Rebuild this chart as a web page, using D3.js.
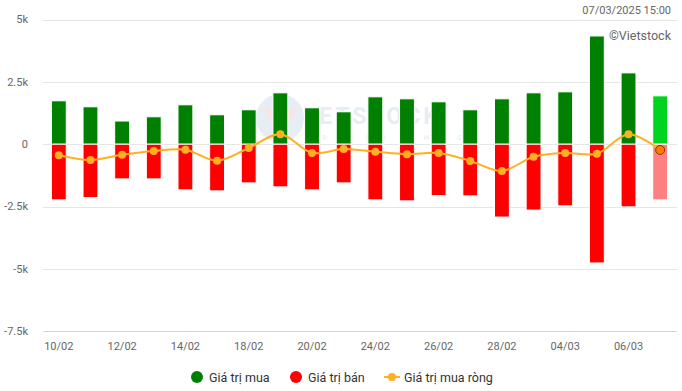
<!DOCTYPE html>
<html>
<head>
<meta charset="utf-8">
<script src="https://cdn.jsdelivr.net/npm/d3@7"></script>
<style>
  body { margin: 0; background: #fff; }
  svg text { font-family: Roboto, "Noto Sans", sans-serif; }
</style>
</head>
<body>
<div id="chart"></div>
<script>
// dates (trading days)
const dates = ["10/02", "11/02", "12/02", "13/02", "14/02", "17/02", "18/02", "19/02", "20/02", "21/02",
               "24/02", "25/02", "26/02", "27/02", "28/02", "03/03", "04/03", "05/03", "06/03", "07/03"];
// Giá trị mua (buy value)
const buyValues = [1740, 1500, 930, 1100, 1580, 1180, 1380, 2060, 1460, 1300,
                   1900, 1820, 1700, 1380, 1820, 2060, 2100, 4340, 2860, 1940];
// Giá trị bán (sell value)
const sellValues = [-2230, -2140, -1390, -1390, -1830, -1870, -1550, -1710, -1830, -1550,
                    -2230, -2270, -2060, -2070, -2920, -2640, -2470, -4760, -2510, -2230];
// Giá trị mua ròng (net)
const netValues = [-440, -630, -420, -270, -220, -660, -150, 400, -350, -190,
                   -300, -400, -350, -670, -1070, -500, -350, -380, 400, -230];
const yTicks = [-7500, -5000, -2500, 0, 2500, 5000];
const xLabelDates = ["10/02", "12/02", "14/02", "18/02", "20/02", "24/02", "26/02", "28/02", "04/03", "06/03"];

const W = 682, H = 391;
const svg = d3.select("#chart").append("svg")
    .attr("width", W)
    .attr("height", H);

const x = d3.scaleBand()
    .domain(dates)
    .range([43, 676])
    .paddingInner(0.53)
    .paddingOuter(0.265);

const y = d3.scaleLinear()
    .domain([-7500, 5000])
    .range([331.3, 19.5]);

// grid
svg.append("g")
    .selectAll("line")
    .data(yTicks)
    .enter().append("line")
    .attr("x1", 43)
    .attr("x2", 677)
    .attr("y1", d => Math.round(y(d)) + 0.5)
    .attr("y2", d => Math.round(y(d)) + 0.5)
    .attr("stroke", d => d === -7500 ? "#ccd6eb" : "#e6e6e6")
    .attr("stroke-width", 1);

// y labels
svg.append("g")
    .selectAll("text")
    .data(yTicks)
    .enter().append("text")
    .attr("x", 28)
    .attr("y", d => y(d))
    .attr("dy", "0.35em")
    .attr("text-anchor", "end")
    .attr("font-size", 11)
    .attr("fill", "#666")
    .text(d => d === 0 ? "0" : (d / 1000) + "k");

// x labels
svg.append("g")
    .selectAll("text")
    .data(xLabelDates)
    .enter().append("text")
    .attr("x", d => x(d) + x.bandwidth() / 2)
    .attr("y", 350)
    .attr("text-anchor", "middle")
    .attr("font-size", 11)
    .attr("fill", "#666")
    .text(d => d);

// watermark
const wm = svg.append("g").attr("opacity", 0.12);
wm.append("circle").attr("cx", 280).attr("cy", 118).attr("r", 24).attr("fill", "#3a6fb0");
wm.append("path").attr("d", "M266,108 L280,132 L294,108").attr("fill", "none").attr("stroke", "#e02020").attr("stroke-width", 5);
wm.append("text").attr("x", 319).attr("y", 124).attr("font-size", 23).attr("font-weight", "bold")
    .attr("fill", "#3a6fb0").attr("letter-spacing", 3).text("ETSTOCK");
wm.append("text").attr("x", 322).attr("y", 140).attr("font-size", 9).attr("fill", "#3a6fb0")
    .attr("letter-spacing", 11).text("efish lwes");

const last = dates[dates.length - 1];

// buy bars
svg.append("g")
    .selectAll("rect")
    .data(dates)
    .enter().append("rect")
    .attr("x", d => x(d))
    .attr("width", x.bandwidth())
    .attr("y", (d, i) => y(buyValues[i]))
    .attr("height", (d, i) => y(0) - y(buyValues[i]))
    .attr("fill", d => d === last ? "#00d420" : "#008000")
    .attr("stroke", "#fff")
    .attr("stroke-width", 1);

// sell bars
svg.append("g")
    .selectAll("rect")
    .data(dates)
    .enter().append("rect")
    .attr("x", d => x(d))
    .attr("width", x.bandwidth())
    .attr("y", y(0))
    .attr("height", (d, i) => y(sellValues[i]) - y(0))
    .attr("fill", d => d === last ? "#ff8080" : "#ff0000")
    .attr("stroke", "#fff")
    .attr("stroke-width", 1);

// net line
const line = d3.line()
    .x((d, i) => x(dates[i]) + x.bandwidth() / 2)
    .y(d => y(d))
    .curve(d3.curveCatmullRom);

svg.append("path")
    .datum(netValues)
    .attr("d", line)
    .attr("fill", "none")
    .attr("stroke", "#ffb020")
    .attr("stroke-width", 2);

svg.append("g")
    .selectAll("circle")
    .data(netValues)
    .enter().append("circle")
    .attr("cx", (d, i) => x(dates[i]) + x.bandwidth() / 2)
    .attr("cy", d => y(d))
    .attr("r", (d, i) => i === dates.length - 1 ? 4.5 : 4)
    .attr("fill", (d, i) => i === dates.length - 1 ? "#ff7b00" : "#ffb020")
    .attr("stroke", (d, i) => i === dates.length - 1 ? "#7a3b00" : "none")
    .attr("stroke-width", 1);

// titles
svg.append("text")
    .attr("x", 671)
    .attr("y", 14)
    .attr("text-anchor", "end")
    .attr("font-size", 11)
    .attr("fill", "#666")
    .text("07/03/2025 15:00");

svg.append("text")
    .attr("x", 671)
    .attr("y", 39.5)
    .attr("text-anchor", "end")
    .attr("font-size", 12.5)
    .attr("fill", "#666")
    .text("©Vietstock");

// legend
const legendItems = [
    { label: "Giá trị mua", color: "#008000", type: "dot", x: 197 },
    { label: "Giá trị bán", color: "#ff0000", type: "dot", x: 296 },
    { label: "Giá trị mua ròng", color: "#ffb020", type: "line", x: 392 }
];

const legend = svg.append("g");
legendItems.forEach(item => {
    if (item.type === "dot") {
        legend.append("circle")
            .attr("cx", item.x).attr("cy", 377).attr("r", 6)
            .attr("fill", item.color);
    } else {
        legend.append("line")
            .attr("x1", item.x - 8).attr("x2", item.x + 8)
            .attr("y1", 377).attr("y2", 377)
            .attr("stroke", item.color).attr("stroke-width", 2);
        legend.append("circle")
            .attr("cx", item.x).attr("cy", 377).attr("r", 4)
            .attr("fill", item.color);
    }
    legend.append("text")
        .attr("x", item.x + 12)
        .attr("y", 381.5)
        .attr("font-size", 12.5)
        .attr("fill", "#333")
        .text(item.label);
});
</script>
</body>
</html>
